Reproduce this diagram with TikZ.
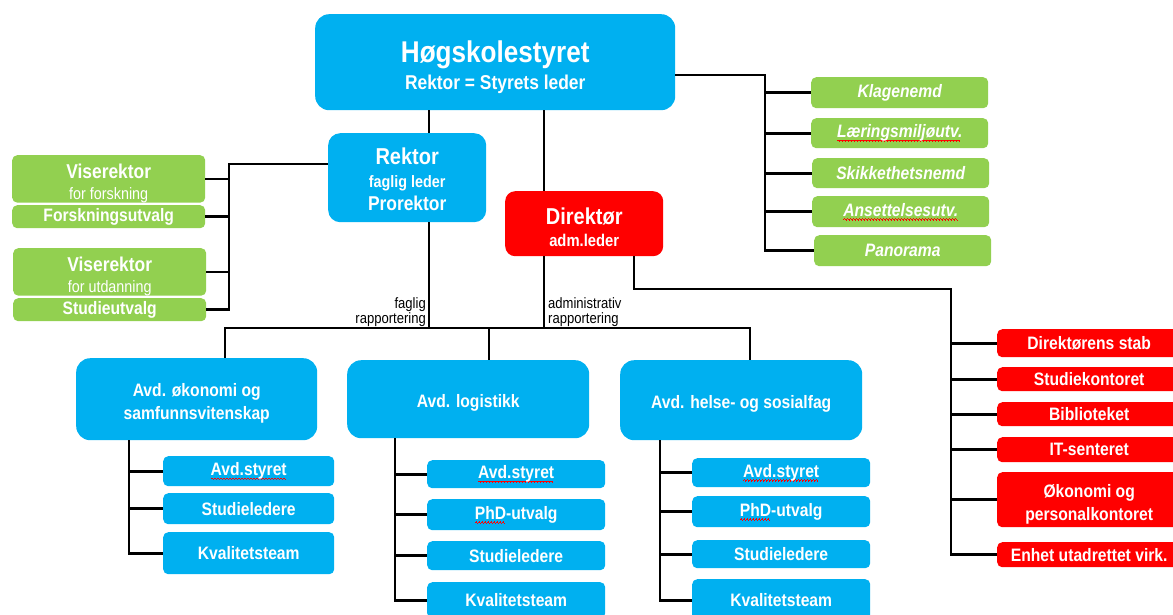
\documentclass[tikz,border=0pt]{standalone}
\usepackage{fontspec}
\setmainfont{Liberation Sans}[FakeStretch=0.87]
\definecolor{cblue}{HTML}{00B0F0}
\definecolor{cgreen}{HTML}{92D050}
\definecolor{cred}{HTML}{FF0000}
\newsavebox\wordbox
\newcommand\waveseg{\hbox{{\color{red}\rule[0pt]{0.75pt}{0.8pt}\rule[0.7pt]{0.75pt}{0.8pt}\rule[0pt]{0.75pt}{0.8pt}\rule[-0.7pt]{0.75pt}{0.8pt}}}}
\newcommand\redwave[1]{\sbox\wordbox{#1}\leavevmode\rlap{\raisebox{-3.5pt}{\hbox to \wd\wordbox{\leaders\waveseg\hfill}}}\usebox\wordbox}
\newcommand\fs[2]{\fontsize{#1}{#2}\selectfont}
\newcommand\up[1]{\rule{0pt}{#1}}
\begin{document}
\begin{tikzpicture}[x=1pt,y=-1pt,
  bx/.style={anchor=north west, inner sep=0pt, align=center, text=white, rounded corners=5pt},
  bl/.style={bx, fill=cblue}, gr/.style={bx, fill=cgreen}, rd/.style={bx, fill=cred},
  sz/.style 2 args={minimum width=#1, minimum height=#2},
  t18/.style={font=\bfseries\fs{18}{23}},
  t18it/.style={font=\bfseries\itshape\fs{18}{23}},
  link/.style={draw=black, line width=2.7pt},
  lbl/.style={inner sep=0pt, font=\fs{15}{15}, text=black}]
\useasboundingbox (0,0) rectangle (1173,614);
% main
\node[bl, sz={360pt}{96pt}, rounded corners=14pt, font=\bfseries\fs{20}{27}] (top) at (315,14) {{\fs{30}{27}\up{32pt}Høgskolestyret}\\Rektor = Styrets leder};
\node[bl, sz={158pt}{89pt}, rounded corners=12pt, font=\bfseries\fs{20}{23}] (rektor) at (328,133) {{\fs{23}{23}\up{20pt}Rektor}\\{\fs{16.5}{23}faglig leder}\\Prorektor};
\node[rd, sz={158pt}{65pt}, rounded corners=10pt, font=\bfseries\fs{17}{22}] (dir) at (505,191) {{\fs{23}{22}\up{27pt}Direktør}\\\redwave{adm.leder}};
% left green
\node[gr, sz={193pt}{45pt}, font=\bfseries\fs{20}{21}] (l1) at (12,155) {\up{23pt}Viserektor\\{\mdseries\fs{16.5}{21}for forskning}};
\node[gr, sz={193pt}{23pt}, t18] (l2) at (12,205) {Forskningsutvalg};
\node[gr, sz={193pt}{45pt}, font=\bfseries\fs{20}{21}] (l3) at (13,248) {\up{23pt}Viserektor\\{\mdseries\fs{16.5}{21}for utdanning}};
\node[gr, sz={193pt}{23pt}, t18] (l4) at (13,298) {Studieutvalg};
% right green
\node[gr, sz={177pt}{31pt}, t18it] (g1) at (811,77) {Klagenemd};
\node[gr, sz={177pt}{30pt}, t18it] (g2) at (811,118) {\redwave{Læringsmiljøutv.}};
\node[gr, sz={177pt}{30pt}, t18it] (g3) at (812,158) {Skikkethetsnemd};
\node[gr, sz={177pt}{31pt}, t18it] (g4) at (812,196) {\redwave{Ansettelsesutv.}};
\node[gr, sz={177pt}{31pt}, t18it] (g5) at (814,235) {Panorama};
% departments
\node[bl, sz={241pt}{82pt}, rounded corners=14pt, t18] (d1) at (76,358) {\up{22pt}Avd. økonomi og\\samfunnsvitenskap};
\node[bl, sz={242pt}{78pt}, rounded corners=14pt, t18, text height=21pt] (d2) at (347,360) {Avd. logistikk};
\node[bl, sz={242pt}{80pt}, rounded corners=14pt, t18, text height=21pt] (d3) at (620,360) {Avd. helse- og sosialfag};
% sub boxes
\node[bl, sz={171pt}{30pt}, t18] (s1a) at (163,456) {\redwave{Avd.styret}};
\node[bl, sz={171pt}{31pt}, t18] (s1b) at (163,493) {Studieledere};
\node[bl, sz={171pt}{42pt}, t18] (s1c) at (163,532) {Kvalitetsteam};
\node[bl, sz={178pt}{28pt}, t18] (s2a) at (427,460) {\redwave{Avd.styret}};
\node[bl, sz={178pt}{31pt}, t18] (s2b) at (427,499) {\redwave{PhD}-utvalg};
\node[bl, sz={178pt}{29pt}, t18] (s2c) at (427,541) {Studieledere};
\node[bl, sz={178pt}{36pt}, t18] (s2d) at (427,582) {Kvalitetsteam};
\node[bl, sz={178pt}{29pt}, t18] (s3a) at (692,458) {\redwave{Avd.styret}};
\node[bl, sz={178pt}{31pt}, t18] (s3b) at (692,496) {\redwave{PhD}-utvalg};
\node[bl, sz={178pt}{28pt}, t18] (s3c) at (692,540) {Studieledere};
\node[bl, sz={178pt}{42pt}, t18] (s3d) at (692,579) {Kvalitetsteam};
% red
\node[rd, sz={184pt}{28pt}, t18] (r1) at (997,329) {Direktørens stab};
\node[rd, sz={184pt}{24pt}, t18] (r2) at (997,367) {Studiekontoret};
\node[rd, sz={184pt}{24pt}, t18] (r3) at (997,402) {Biblioteket};
\node[rd, sz={184pt}{25pt}, t18] (r4) at (997,437) {IT-senteret};
\node[rd, sz={184pt}{55pt}, t18] (r5) at (997,472) {\up{22pt}Økonomi og\\personalkontoret};
\node[rd, sz={184pt}{25pt}, t18] (r6) at (997,542) {Enhet utadrettet virk.};
% labels
\node[lbl, anchor=south east, align=right] (lf) at (426,327) {faglig\\rapportering};
\node[lbl, anchor=south west, align=left] (la) at (548,327) {administrativ\\rapportering};
% coordinates
\coordinate (rx) at (429,0);
\coordinate (dx) at (544,0);
\coordinate (bus) at (0,328);
\coordinate (b1) at (225,0);
\coordinate (b2) at (489,0);
\coordinate (b3) at (750,0);
\coordinate (gv) at (765,75);
\coordinate (lv) at (229,164);
\coordinate (dv) at (634,0);
\coordinate (rv) at (951,289);
\coordinate (v1) at (129,0);
\coordinate (v2) at (395,0);
\coordinate (v3) at (660,0);
% connectors
\draw[link] (top.south -| rx) -- (rektor.north -| rx);
\draw[link] (rektor.south -| rx) -- (rx |- bus);
\draw[link] (top.south -| dx) -- (dir.north -| dx);
\draw[link] (dir.south -| dx) -- (dx |- bus);
\draw[link] (d1.north -| b1) -- (b1 |- bus) -- (b3 |- bus) -- (d3.north -| b3);
\draw[link] (b2 |- bus) -- (d2.north -| b2);
% right green
\draw[link] (top.east |- gv) -- (gv) -- (gv |- g5.west) -- (g5.west);
\foreach \g in {g1,g2,g3,g4} \draw[link] (gv |- \g.west) -- (\g.west);
% left green
\draw[link] (rektor.west |- lv) -- (lv) -- (lv |- l4.east) -- (l4.east);
\foreach \g in {l1,l2,l3} \draw[link] (lv |- \g.east) -- (\g.east);
% red
\draw[link] (dir.south -| dv) -- (dv |- rv) -- (rv) -- (rv |- r6.west) -- (r6.west);
\foreach \r in {r1,r2,r3,r4,r5} \draw[link] (rv |- \r.west) -- (\r.west);
% departments
\draw[link] (d1.south -| v1) -- (v1 |- s1c.west) -- (s1c.west);
\foreach \s in {s1a,s1b} \draw[link] (v1 |- \s.west) -- (\s.west);
\draw[link] (d2.south -| v2) -- (v2 |- s2d.west) -- (s2d.west);
\foreach \s in {s2a,s2b,s2c} \draw[link] (v2 |- \s.west) -- (\s.west);
\draw[link] (d3.south -| v3) -- (v3 |- s3d.west) -- (s3d.west);
\foreach \s in {s3a,s3b,s3c} \draw[link] (v3 |- \s.west) -- (\s.west);
\end{tikzpicture}
\end{document}
